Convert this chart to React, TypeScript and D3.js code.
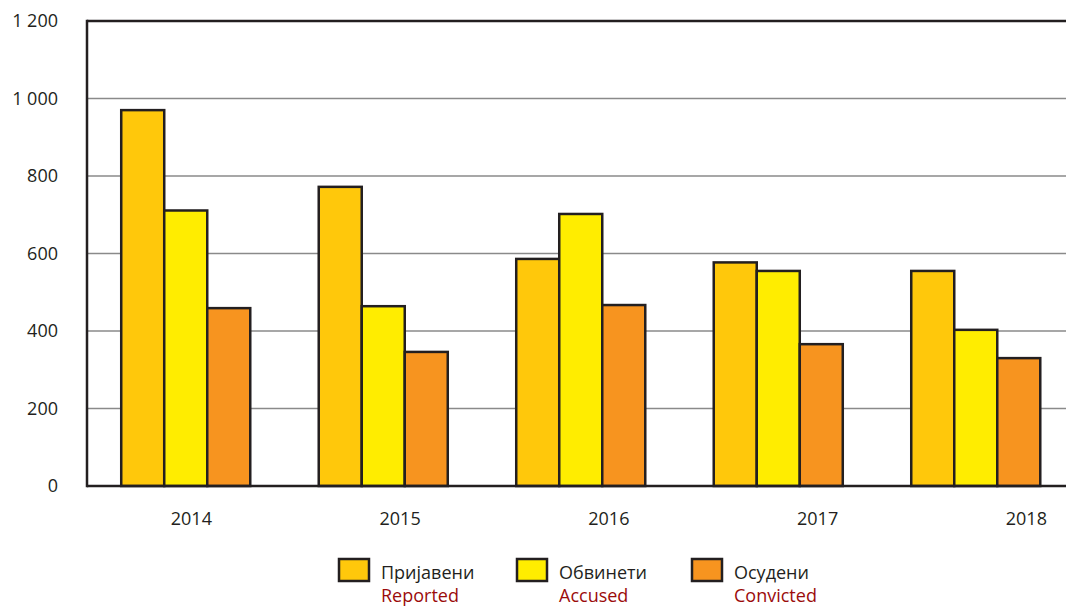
import * as d3 from "d3";
import { useEffect, useRef } from "react";

const years = ["2014", "2015", "2016", "2017", "2018"];
const reported = [970, 772, 586, 577, 555];
const accused = [711, 464, 702, 555, 403];
const convicted = [459, 346, 467, 366, 330];
const yTicks = [0, 200, 400, 600, 800, 1000, 1200];

const series = [
  { key: "reported", label: "Пријавени", en: "Reported", color: "#FFC80B", values: reported },
  { key: "accused", label: "Обвинети", en: "Accused", color: "#FFED00", values: accused },
  { key: "convicted", label: "Осудени", en: "Convicted", color: "#F7941F", values: convicted },
];

const fmt = (v: number) => (v >= 1000 ? `${Math.floor(v / 1000)} ${String(v % 1000).padStart(3, "0")}` : `${v}`);

export default function App() {
  const svgRef = useRef<SVGSVGElement>(null);
  const width = 1066;
  const height = 607;

  useEffect(() => {
    if (!svgRef.current) return;
    const svg = d3.select(svgRef.current);
    svg.selectAll("*").remove();

    const font = "'Open Sans', 'Noto Sans', sans-serif";
    const left = 87;
    const top = 21;
    const bottom = 486;

    const y = d3.scaleLinear().domain([0, 1200]).range([bottom, top]);

    // bars sit in narrower groups than the year labels
    const xBars = d3.scaleBand().domain(years).range([left, left + 5 * 197.5]).paddingInner(0.3467).paddingOuter(0.1733);
    const xLabels = d3.scaleBand().domain(years).range([left, left + 5 * 208.75]);
    const xSub = d3.scaleBand().domain(series.map((s) => s.key)).range([0, xBars.bandwidth()]);

    // grid lines
    svg
      .append("g")
      .selectAll("line")
      .data(yTicks.filter((t) => t > 0 && t < 1200))
      .join("line")
      .attr("x1", left)
      .attr("x2", width)
      .attr("y1", (d) => y(d))
      .attr("y2", (d) => y(d))
      .style("stroke", "#8a8a8a")
      .style("stroke-width", 1.3);

    // top frame line
    svg
      .append("line")
      .attr("x1", left)
      .attr("x2", width)
      .attr("y1", top)
      .attr("y2", top)
      .style("stroke", "#231F20")
      .style("stroke-width", 2.5);

    // tick labels
    svg
      .append("g")
      .selectAll("text")
      .data(yTicks)
      .join("text")
      .attr("x", 58)
      .attr("y", (d) => y(d) + 6)
      .attr("text-anchor", "end")
      .style("font-family", font)
      .style("font-size", "18px")
      .style("fill", "#231F20")
      .text((d) => fmt(d));

    // bars
    series.forEach((s) => {
      svg
        .append("g")
        .selectAll("rect")
        .data(years)
        .join("rect")
        .attr("x", (d) => (xBars(d) ?? 0) + (xSub(s.key) ?? 0))
        .attr("y", (_, i) => y(s.values[i]))
        .attr("width", xSub.bandwidth())
        .attr("height", (_, i) => bottom - y(s.values[i]))
        .style("fill", s.color)
        .style("stroke", "#231F20")
        .style("stroke-width", 2.5);
    });

    // axes lines
    svg
      .append("line")
      .attr("x1", left)
      .attr("x2", left)
      .attr("y1", top - 1.25)
      .attr("y2", bottom + 1.25)
      .style("stroke", "#231F20")
      .style("stroke-width", 2.5);
    svg
      .append("line")
      .attr("x1", left)
      .attr("x2", width)
      .attr("y1", bottom)
      .attr("y2", bottom)
      .style("stroke", "#231F20")
      .style("stroke-width", 2.5);

    // year labels
    svg
      .append("g")
      .selectAll("text")
      .data(years)
      .join("text")
      .attr("x", (d) => (xLabels(d) ?? 0) + xLabels.bandwidth() / 2)
      .attr("y", 525)
      .attr("text-anchor", "middle")
      .style("font-family", font)
      .style("font-size", "18px")
      .style("fill", "#231F20")
      .text((d) => d);

    // legend
    const legendX = [339, 517, 692];
    series.forEach((s, i) => {
      const g = svg.append("g").attr("transform", `translate(${legendX[i]}, 559)`);
      g.append("rect")
        .attr("width", 30)
        .attr("height", 22)
        .style("fill", s.color)
        .style("stroke", "#231F20")
        .style("stroke-width", 2.5);
      g.append("text")
        .attr("x", 42)
        .attr("y", 20)
        .style("font-family", font)
        .style("font-size", "18px")
        .style("fill", "#231F20")
        .text(s.label);
      g.append("text")
        .attr("x", 42)
        .attr("y", 43)
        .style("font-family", font)
        .style("font-size", "18px")
        .style("fill", "#9B0B0B")
        .text(s.en);
    });
  }, []);

  return (
    <svg
      ref={svgRef}
      width={width}
      height={height}
      style={{ position: "absolute", left: 0, top: 0, background: "#fff" }}
    />
  );
}
